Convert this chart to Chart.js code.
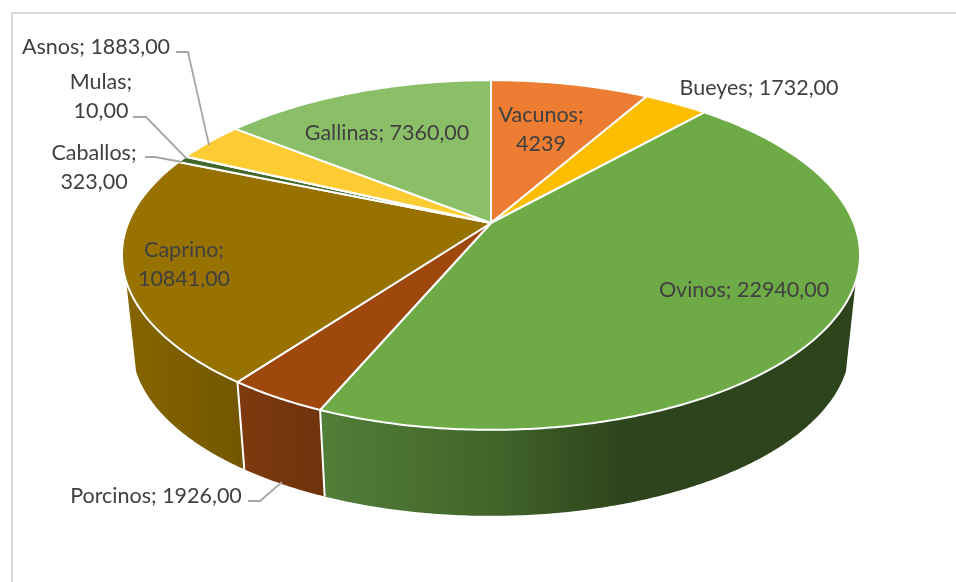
<!DOCTYPE html>
<html>
<head>
<meta charset="utf-8">
<title>Animales</title>
<script src="https://cdn.jsdelivr.net/npm/chart.js@4"></script>
<style>
html,body{margin:0;padding:0;background:#fff;overflow:hidden;}
#wrap{position:relative;width:956px;height:582px;}
#frame{position:absolute;left:11px;top:12px;right:0;bottom:0;border-left:2px solid #d9d9d9;border-top:2px solid #d9d9d9;}
canvas{position:absolute;left:0;top:0;}
</style>
</head>
<body>
<div id="wrap">
<div id="frame"></div>
<canvas id="chart" width="956" height="582"></canvas>
</div>
<script>
const categories=["Vacunos","Bueyes","Ovinos","Porcinos","Caprino","Caballos","Mulas","Asnos","Gallinas"];
const values=[4239,1732,22940,1926,10841,323,10,1883,7360];
const valueLabels=["4239","1732,00","22940,00","1926,00","10841,00","323,00","10,00","1883,00","7360,00"];
const colors=["#EC7D32","#FDBD00","#6EAB47","#9E480E","#977200","#43682B","#636363","#FDCB32","#8ABF68"];

// label text lines are centred on x; y is the middle of the first line
const labelPlace=[
    {x:541,y:115,lines:2},
    {x:759,y:88,lines:1},
    {x:744,y:290,lines:1},
    {x:156,y:496,lines:1},
    {x:184,y:250,lines:2},
    {x:94,y:153,lines:2},
    {x:101,y:82,lines:2},
    {x:96,y:47,lines:1},
    {x:387,y:133,lines:1}
];
const leaders=[
    [[176,52],[188,52],[209,145]],
    [[133,117],[146,117],[186,158]],
    [[145,157],[155,157],[182,162]],
    [[248,501],[260,501],[282,482]]
];
// side wall gradients, [x, colour]
const wallStops={
    2:[[320,"#527F38"],[500,"#41632A"],[625,"#2D441C"],[860,"#2D431C"]],
    3:[[237,"#7E3A0E"],[324,"#6F330C"]],
    4:[[122,"#866500"],[243,"#735700"]]
};

// perspective of the tilted disc
const persp=0.183, kx=362.8/223, ky=169/223;
const wallScale=0.973, wallDrop=91.6;
const wallFrom=109*Math.PI/180-Math.PI/2, wallTo=251*Math.PI/180-Math.PI/2;

function project(arc,a,scale,drop){
    const u=Math.cos(a),v=Math.sin(a),w=1-persp*v,r=arc.outerRadius;
    return [arc.x+scale*kx*r*u/w, arc.y+drop+scale*ky*r*v/w];
}

function rimPoints(arc,from,to,scale,drop){
    const pts=[];
    const n=Math.max(2,Math.ceil(Math.abs(to-from)/0.01));
    for(let i=0;i<=n;i++) pts.push(project(arc,from+(to-from)*i/n,scale,drop));
    return pts;
}

const tiltedPie={
    id:"tiltedPie",
    beforeDatasetsDraw(chart){
        const ctx=chart.ctx;
        const arcs=chart.getDatasetMeta(0).data;
        ctx.save();
        ctx.lineJoin="round";
        // walls
        arcs.forEach((arc,i)=>{
            const from=Math.max(arc.startAngle,wallFrom),to=Math.min(arc.endAngle,wallTo);
            if(to<=from) return;
            const stops=wallStops[i];
            const x0=stops[0][0],x1=stops[stops.length-1][0];
            const g=ctx.createLinearGradient(x0,0,x1,0);
            stops.forEach(s=>g.addColorStop((s[0]-x0)/(x1-x0),s[1]));
            const top=rimPoints(arc,from,to,1,0);
            const bottom=rimPoints(arc,to,from,wallScale,wallDrop);
            ctx.beginPath();
            top.concat(bottom).forEach((p,k)=>k?ctx.lineTo(p[0],p[1]):ctx.moveTo(p[0],p[1]));
            ctx.closePath();
            ctx.fillStyle=g;
            ctx.fill();
        });
        // white seams on the wall
        arcs.forEach(arc=>{
            if(arc.startAngle<=wallFrom||arc.startAngle>=wallTo) return;
            const a=project(arc,arc.startAngle,1,0),b=project(arc,arc.startAngle,wallScale,wallDrop);
            ctx.beginPath();ctx.moveTo(a[0],a[1]);ctx.lineTo(b[0],b[1]);
            ctx.strokeStyle="#fff";ctx.lineWidth=2;ctx.stroke();
        });
        // top face
        arcs.forEach((arc,i)=>{
            ctx.beginPath();
            ctx.moveTo(arc.x,arc.y);
            rimPoints(arc,arc.startAngle,arc.endAngle,1,0).forEach(p=>ctx.lineTo(p[0],p[1]));
            ctx.closePath();
            ctx.fillStyle=colors[i];
            ctx.fill();
            ctx.strokeStyle="#fff";ctx.lineWidth=2;ctx.stroke();
        });
        ctx.restore();
        return false;
    },
    afterDraw(chart){
        const ctx=chart.ctx;
        ctx.save();
        ctx.strokeStyle="#A6A6A6";ctx.lineWidth=1.8;
        leaders.forEach(l=>{
            ctx.beginPath();
            l.forEach((p,k)=>k?ctx.lineTo(p[0],p[1]):ctx.moveTo(p[0],p[1]));
            ctx.stroke();
        });
        ctx.font="21.5px Lato";
        ctx.fillStyle="#404040";
        ctx.textAlign="center";ctx.textBaseline="middle";
        categories.forEach((c,i)=>{
            const p=labelPlace[i];
            if(p.lines==2){
                ctx.fillText(c+";",p.x,p.y);
                ctx.fillText(valueLabels[i],p.x,p.y+29);
            }else{
                ctx.fillText(c+"; "+valueLabels[i],p.x,p.y);
            }
        });
        ctx.restore();
    }
};

new Chart(document.getElementById("chart"),{
    type:"pie",
    data:{labels:categories,datasets:[{data:values,backgroundColor:colors,borderWidth:0}]},
    options:{
        responsive:false,
        animation:false,
        layout:{padding:{left:26,right:0,top:0,bottom:136}},
        plugins:{legend:{display:false},tooltip:{enabled:false},title:{display:false}}
    },
    plugins:[tiltedPie]
});
</script>
</body>
</html>
